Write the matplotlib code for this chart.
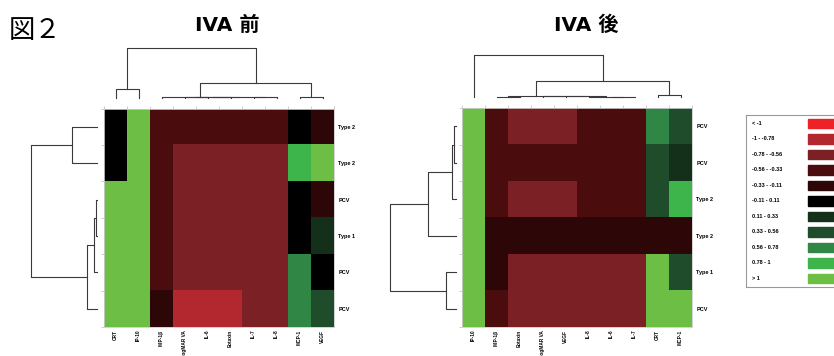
import numpy as np
import matplotlib
matplotlib.use("Agg")
import matplotlib.pyplot as plt
from matplotlib.colors import ListedColormap, BoundaryNorm
from matplotlib.patches import Rectangle

W, H = 834, 356

# colour key
bin_labels = ['< -1', '-1 - -0.78', '-0.78 - -0.56', '-0.56 - -0.33', '-0.33 - -0.11',
              '-0.11 - 0.11', '0.11 - 0.33', '0.33 - 0.56', '0.56 - 0.78', '0.78 - 1', '> 1']
bin_colors = ['#ED2227', '#B3282E', '#7B2025', '#4B0C0E', '#2D0708', '#000000',
              '#15301A', '#1F4D2C', '#2F8645', '#3EB54A', '#6CBE45']
bin_edges = [-10, -1, -0.78, -0.56, -0.33, -0.11, 0.11, 0.33, 0.56, 0.78, 1, 10]

# before IVA
pre_cols = ['CRT', 'IP-10', 'MIP-1β', 'logMAR VA', 'IL-6', 'Eotaxin', 'IL-7', 'IL-8', 'MCP-1', 'VEGF']
pre_rows = ['Type 2', 'Type 2', 'PCV', 'Type 1', 'PCV', 'PCV']
pre_vals = [
    [0.0, 1.2, -0.45, -0.45, -0.45, -0.45, -0.45, -0.45, 0.0, -0.22],
    [0.0, 1.2, -0.45, -0.67, -0.67, -0.67, -0.67, -0.67, 0.9, 1.2],
    [1.2, 1.2, -0.45, -0.67, -0.67, -0.67, -0.67, -0.67, 0.0, -0.22],
    [1.2, 1.2, -0.45, -0.67, -0.67, -0.67, -0.67, -0.67, 0.0, 0.22],
    [1.2, 1.2, -0.45, -0.67, -0.67, -0.67, -0.67, -0.67, 0.67, 0.0],
    [1.2, 1.2, -0.22, -0.9, -0.9, -0.9, -0.67, -0.67, 0.67, 0.45],
]
# merges: (child a, child b, height); ids >= n are earlier merges
pre_col_links = [(3, 4, 0.3), (10, 5, 0.6), (6, 7, 0.3), (11, 12, 0.9), (2, 13, 1.0),
                 (8, 9, 0.8), (0, 1, 8.2), (14, 15, 14.8), (16, 17, 49.2)]
pre_row_links = [(0, 1, 25.6), (2, 3, 1.3), (7, 4, 3.3), (8, 5, 10.6), (6, 9, 66.6)]

# after IVA
post_cols = ['IP-10', 'MIP-1β', 'Eotaxin', 'logMAR VA', 'VEGF', 'IL-8', 'IL-6', 'IL-7', 'CRT', 'MCP-1']
post_rows = ['PCV', 'PCV', 'Type 2', 'Type 2', 'Type 1', 'PCV']
post_vals = [
    [1.2, -0.45, -0.67, -0.67, -0.67, -0.45, -0.45, -0.45, 0.67, 0.45],
    [1.2, -0.45, -0.45, -0.45, -0.45, -0.45, -0.45, -0.45, 0.45, 0.22],
    [1.2, -0.45, -0.67, -0.67, -0.67, -0.45, -0.45, -0.45, 0.45, 0.9],
    [1.2, -0.22, -0.22, -0.22, -0.22, -0.22, -0.22, -0.22, -0.22, -0.22],
    [1.2, -0.22, -0.67, -0.67, -0.67, -0.67, -0.67, -0.67, 1.2, 0.45],
    [1.2, -0.45, -0.67, -0.67, -0.67, -0.67, -0.67, -0.67, 1.2, 1.2],
]
post_col_links = [(6, 7, 0.3), (5, 10, 0.5), (4, 11, 0.7), (3, 12, 0.9), (1, 2, 0.4),
                  (14, 13, 1.0), (8, 9, 1.8), (15, 16, 16.3), (0, 17, 42.0)]
post_row_links = [(0, 1, 1.7), (6, 2, 4.0), (7, 3, 28.0), (4, 5, 10.0), (8, 9, 66.0)]

cmap = ListedColormap(bin_colors)
norm = BoundaryNorm(bin_edges, cmap.N)
label_font = ['Liberation Sans', 'DejaVu Sans']
cjk_font = ['DejaVu Sans', 'Noto Sans CJK JP']


def px_axes(fig, x0, y0, x1, y1):
    return fig.add_axes([x0 / W, 1 - y1 / H, (x1 - x0) / W, (y1 - y0) / H])


def draw_dendro(ax, n, links, side):
    pos = list(range(n))
    hgt = [0.0] * n
    for a, b, h in links:
        xs = [pos[a], pos[a], pos[b], pos[b]]
        ys = [hgt[a], h, h, hgt[b]]
        if side == 'top':
            ax.plot(xs, ys, color='#3a3a3a', lw=0.8, clip_on=False)
        else:
            ax.plot(ys, xs, color='#3a3a3a', lw=0.8, clip_on=False)
        pos.append((pos[a] + pos[b]) / 2)
        hgt.append(h)
    ax.axis('off')


def draw_heatmap(ax, vals, cols, rows):
    data = np.array(vals)
    ax.imshow(data, cmap=cmap, norm=norm, aspect='auto', interpolation='nearest')
    ax.set_xticks(np.arange(len(cols)))
    ax.set_xticklabels(cols, rotation=90, fontsize=3.4, fontweight='bold', family=label_font)
    ax.set_yticks(np.arange(len(rows)))
    ax.set_yticklabels(rows, fontsize=4, fontweight='bold', family=label_font)
    ax.yaxis.tick_right()
    ax.tick_params(axis='x', which='major', length=0, pad=2)
    ax.tick_params(axis='y', which='major', length=0, pad=3)
    ax.set_xticks(np.arange(len(cols) + 1) - 0.5, minor=True)
    ax.set_yticks(np.arange(len(rows) + 1) - 0.5, minor=True)
    ax.tick_params(which='minor', top=True, bottom=False, left=True, right=False,
                   length=2.5, width=0.5, color='#bbbbbb')
    for s in ax.spines.values():
        s.set_color('#cccccc')
        s.set_linewidth(0.6)


fig = plt.figure(figsize=(W / 100, H / 100), dpi=100)

# left panel
ax = px_axes(fig, 104, 108.5, 334, 327)
draw_heatmap(ax, pre_vals, pre_cols, pre_rows)
ax = px_axes(fig, 104, 45, 334, 97.5)
ax.set_xlim(-0.5, len(pre_cols) - 0.5)
ax.set_ylim(0, 52.5)
draw_dendro(ax, len(pre_cols), pre_col_links, 'top')
ax = px_axes(fig, 20, 108.5, 97.3, 327)
ax.set_xlim(77.3, 0)
ax.set_ylim(len(pre_rows) - 0.5, -0.5)
draw_dendro(ax, len(pre_rows), pre_row_links, 'left')

# right panel
ax = px_axes(fig, 462, 108, 692, 327)
draw_heatmap(ax, post_vals, post_cols, post_rows)
ax = px_axes(fig, 462, 45, 692, 97)
ax.set_xlim(-0.5, len(post_cols) - 0.5)
ax.set_ylim(0, 52)
draw_dendro(ax, len(post_cols), post_col_links, 'top')
ax = px_axes(fig, 378, 108, 455.7, 327)
ax.set_xlim(77.7, 0)
ax.set_ylim(len(post_rows) - 0.5, -0.5)
draw_dendro(ax, len(post_rows), post_row_links, 'left')

# titles
fig.text(9 / W, 1 - 31 / H, '図２', fontsize=19, family=['Noto Sans CJK JP'], va='center')
fig.text(227 / W, 1 - 25 / H, 'IVA 前', fontsize=14.5, fontweight='bold', family=cjk_font,
         ha='center', va='center')
fig.text(586 / W, 1 - 25 / H, 'IVA 後', fontsize=14.5, fontweight='bold', family=cjk_font,
         ha='center', va='center')

# colour key box (runs off the right edge)
lg = px_axes(fig, 745.7, 115, 880, 286.7)
lg.set_xlim(745.7, 880)
lg.set_ylim(286.7, 115)
lg.set_xticks([])
lg.set_yticks([])
for s in lg.spines.values():
    s.set_color('#999999')
    s.set_linewidth(0.8)
for k in range(len(bin_labels)):
    yc = 123.3 + 15.5 * k
    lg.add_patch(Rectangle((807.7, yc - 4.8), 40, 9.6, color=bin_colors[k]))
    lg.text(751.5, yc, bin_labels[k], fontsize=4, fontweight='bold', family=label_font,
            va='center', ha='left')

fig.savefig('out.png', dpi=100)
